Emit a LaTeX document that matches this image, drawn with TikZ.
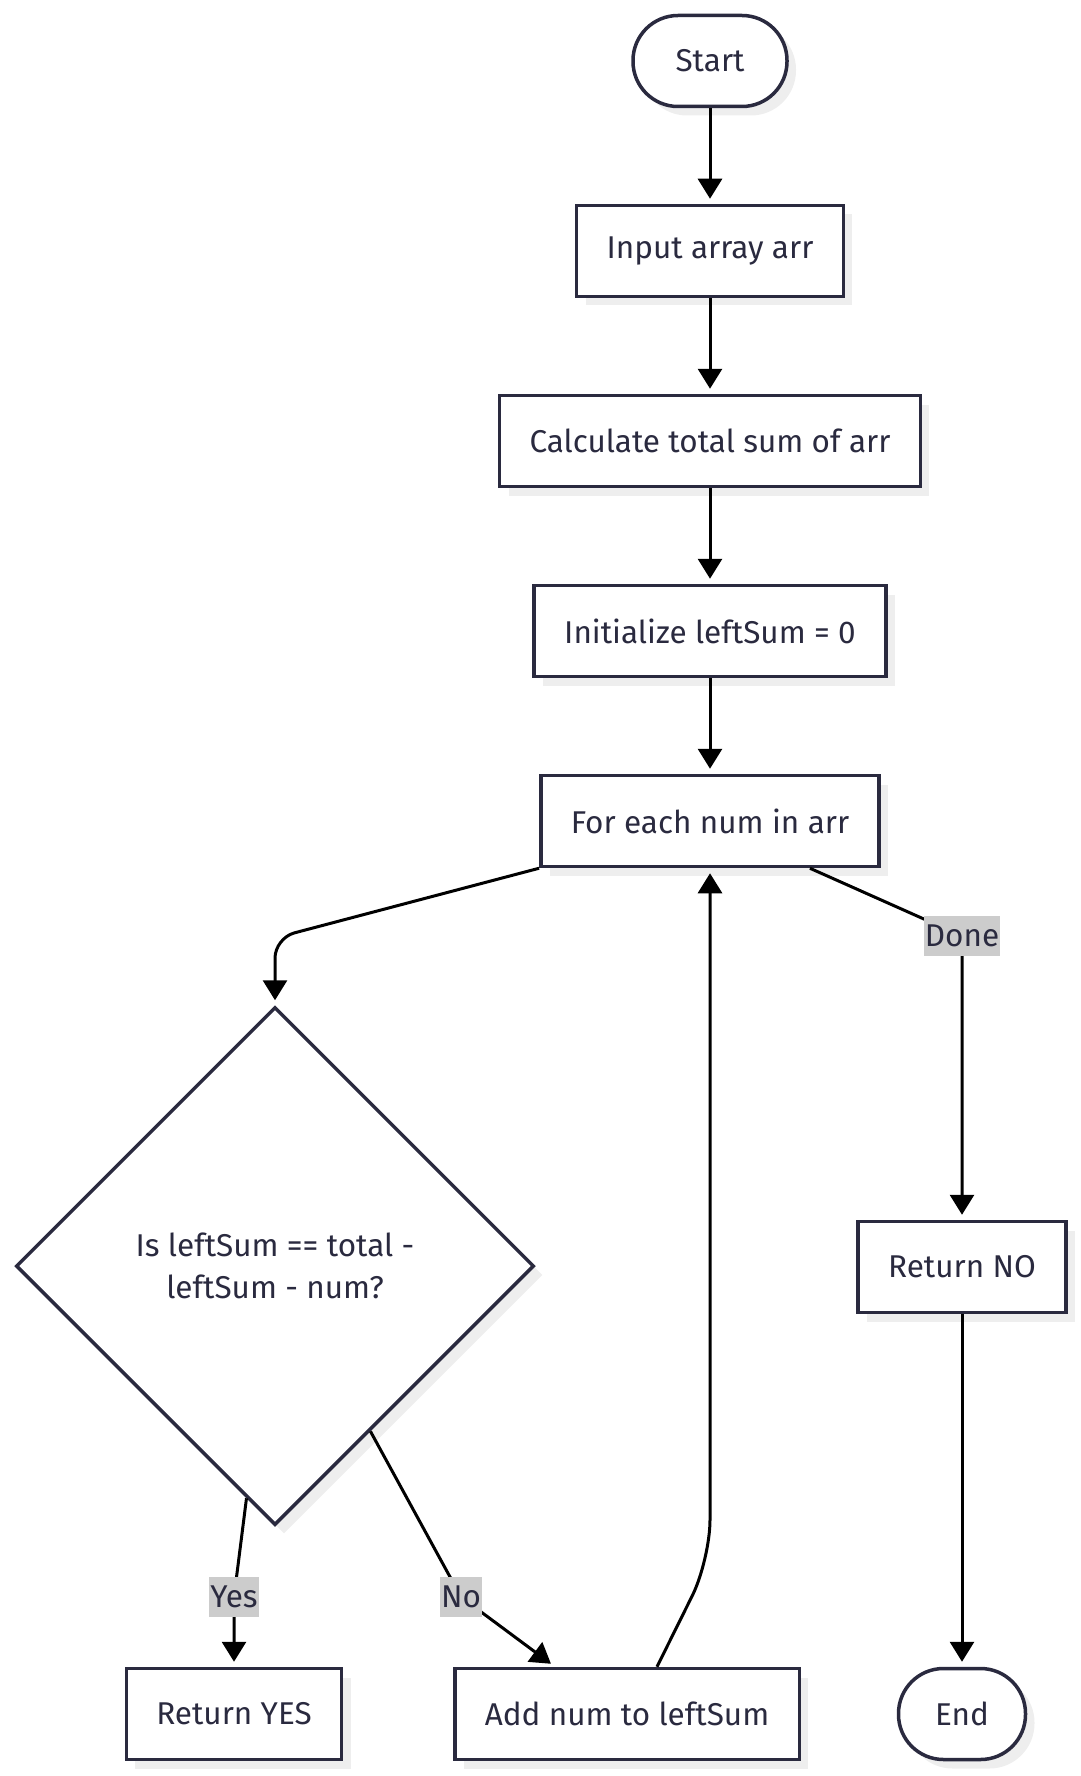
\documentclass[tikz,border=0pt]{standalone}
\usepackage{fontspec}
\setmainfont{Fira Sans}
\usetikzlibrary{shapes.geometric,arrows.meta,shadows}
\definecolor{ink}{HTML}{2A2A3F}
\definecolor{shade}{HTML}{EEEEEE}
\definecolor{lblbg}{HTML}{CCCCCC}

\begin{document}
\begin{tikzpicture}[x = 1pt, y = -1pt,
    every node/.style = {font=\fontsize{31.5}{42}\selectfont, text=ink},
    box/.style = {draw=ink, line width=3.5pt, fill=white, minimum height=91pt, inner xsep=30pt,
        drop shadow={shadow xshift=9pt, shadow yshift=-9pt, fill=shade, opacity=1}},
    term/.style = {box, rounded corners=45pt},
    cond/.style = {box, diamond, minimum width=518pt, minimum height=518pt, inner sep=0pt, align=center},
    lbl/.style = {fill=lblbg, sharp corners, inner xsep=1pt, inner ysep=0pt, minimum height=40pt},
    flow/.style = {draw=black, line width=3pt, shorten >=5pt, -{Triangle[length=20pt,width=24pt]}}]
    \useasboundingbox (0,0) rectangle (1080,1776);

    \node[term, minimum width=154pt] (start) at (710,61) {Start};
    \node[box] (input) at (710,251) {Input array arr};
    \node[box] (total) at (710,441) {Calculate total sum of arr};
    \node[box] (init) at (710,631) {Initialize leftSum = 0};
    \node[box] (loop) at (710,821) {For each num in arr};
    \node[cond] (check) at (275,1266) {Is leftSum == total -\\leftSum - num?};
    \node[box] (retno) at (962,1267) {Return NO};
    \node[box] (retyes) at (234,1714) {Return YES};
    \node[box] (add) at (627,1714) {Add num to leftSum};
    \node[term, minimum width=127pt] (end) at (962,1714) {End};

    \draw[flow] (start) -- (input);
    \draw[flow] (input) -- (total);
    \draw[flow] (total) -- (init);
    \draw[flow] (init) -- (loop);
    \draw[flow, rounded corners=20pt] (loop.south west) -- (check.north |- 0,938) -- (check.north);
    \draw[flow, rounded corners=20pt] ([xshift=-71pt]loop.south east) -- (retno.north |- 0,936) node[lbl]{Done} -- (retno.north);
    \draw[flow] (check.263) -- (retyes.north |- 0,1597) node[lbl]{Yes} -- (retyes.north);
    \draw[flow, rounded corners=25pt] (check.300) -- (461,1597) node[lbl]{No} -- ([xshift=-72pt]add.north);
    \draw[flow, rounded corners=40pt] ([xshift=30pt]add.north) -- (loop.south |- 0,1560) -- (loop.south);
    \draw[flow] (retno) -- (end);
\end{tikzpicture}
\end{document}
